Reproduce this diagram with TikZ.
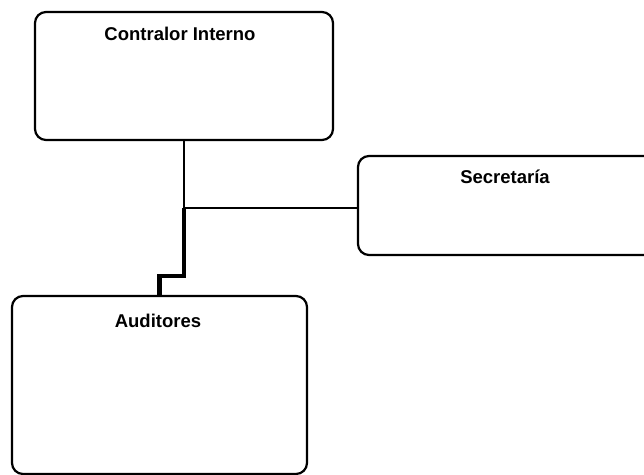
\documentclass[tikz,border=0pt]{standalone}
\usepackage{fontspec}
\setmainfont{Liberation Sans}
\begin{document}
\begin{tikzpicture}[x=1pt,y=-1pt,
  unitbox/.style={draw=black,line width=2.2pt,rounded corners=11pt,fill=white,inner sep=0pt},
  unitname/.style={font=\bfseries\fontsize{18.5}{22}\selectfont,inner sep=0pt,anchor=center},
  link/.style={line width=2.4pt},
  heavylink/.style={line width=4.5pt}]
  \useasboundingbox (0,0) rectangle (644,474);
  \clip (0,0) rectangle (644,474);
  % organisation units
  \node[unitbox,minimum width=298pt,minimum height=128pt] (ci) at (184,76) {};
  \node[unitbox,minimum width=342pt,minimum height=99pt] (sec) at (529,205.5) {};
  \node[unitbox,minimum width=295pt,minimum height=178pt] (aud) at (159.5,385) {};
  % unit titles
  \node[unitname] (ciname) at (180,34) {Contralor Interno};
  \node[unitname] (secname) at (505,177) {Secretaría};
  \node[unitname] (audname) at (158,321) {Auditores};
  % connectors
  \coordinate (j) at (184,208);
  \coordinate (stepc) at (184,276);
  \draw[link] (ci.south) -- (j);
  \draw[link] (j) -- (j -| sec.west);
  \draw[heavylink] (j) -- (stepc) -| (aud.north);
\end{tikzpicture}
\end{document}
